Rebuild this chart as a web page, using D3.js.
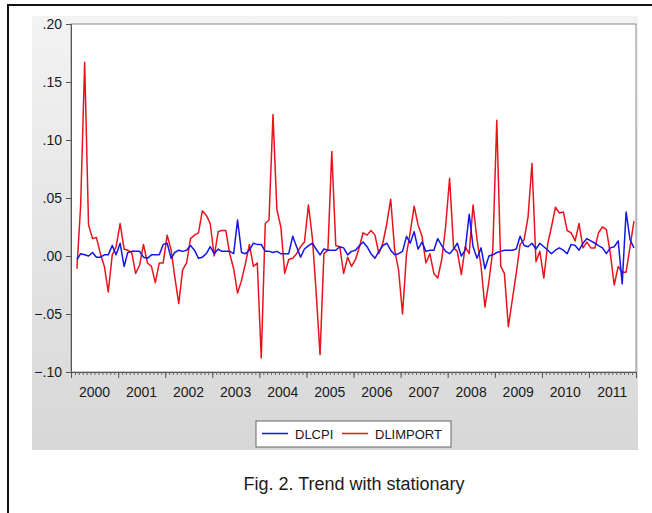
<!DOCTYPE html>
<html>
<head>
<meta charset="utf-8">
<script src="https://cdn.jsdelivr.net/npm/d3@7"></script>
<style>
  body { margin: 0; background: #fff; }
  svg { display: block; font-family: Arial, "Liberation Sans", sans-serif; }
</style>
</head>
<body>
<svg id="chart" width="652" height="513"></svg>
<script>
// monthly log-differences, 2000M02 .. 2011M12
const startMonth = [2000, 1];
const dlcpi = [
  -0.003, 0.002, 0.001, 0.000, 0.003, -0.001, -0.001, 0.001, 0.001, 0.009, 0.001, 0.011,
  -0.009, 0.003, 0.004, 0.004, 0.004, -0.001, -0.002, 0.001, 0.001, 0.001, 0.010, 0.011,
  -0.002, 0.003, 0.005, 0.004, 0.005, 0.009, 0.005, -0.002, -0.001, 0.002, 0.008, 0.002,
  0.006, 0.004, 0.004, 0.004, 0.002, 0.031, 0.003, 0.002, 0.005, 0.011, 0.010, 0.010,
  0.004, 0.004, 0.003, 0.004, 0.002, 0.002, 0.002, 0.017, 0.008, -0.001, 0.006, 0.009,
  0.011, 0.006, 0.001, 0.006, 0.005, 0.005, 0.005, 0.008, 0.007, 0.001, 0.004, 0.005,
  0.009, 0.012, 0.008, 0.002, -0.002, 0.004, 0.009, 0.011, 0.005, 0.001, 0.002, 0.004,
  0.017, 0.011, 0.021, 0.006, 0.012, 0.004, 0.005, 0.005, 0.015, 0.009, 0.004, 0.002,
  0.006, 0.011, 0.000, 0.005, 0.036, 0.008, -0.002, 0.007, -0.011, 0.000, 0.001, 0.003,
  0.004, 0.005, 0.005, 0.005, 0.006, 0.017, 0.009, 0.008, 0.011, 0.006, 0.011, 0.008,
  0.005, 0.002, 0.005, 0.007, 0.005, 0.002, 0.010, 0.009, 0.005, 0.011, 0.015, 0.013,
  0.011, 0.009, 0.007, 0.002, 0.007, 0.008, 0.013, -0.024, 0.038, 0.014, 0.007
];
const dlimport = [
  -0.011, 0.044, 0.167, 0.027, 0.015, 0.016, 0.002, -0.009, -0.031, 0.001, 0.008, 0.028,
  0.006, 0.005, 0.003, -0.015, -0.008, 0.010, -0.006, -0.009, -0.023, -0.006, -0.006, 0.018,
  0.005, -0.018, -0.041, -0.012, -0.006, 0.015, 0.018, 0.020, 0.039, 0.035, 0.028, 0.000,
  0.021, 0.022, 0.022, 0.002, -0.011, -0.032, -0.021, -0.006, 0.010, -0.009, -0.006, -0.088,
  0.028, 0.031, 0.122, 0.040, 0.025, -0.015, -0.003, -0.002, 0.002, 0.008, 0.012, 0.044,
  0.015, -0.030, -0.085, 0.002, 0.005, 0.090, 0.009, 0.008, -0.015, -0.001, -0.009, -0.003,
  0.008, 0.020, 0.018, 0.022, 0.018, 0.002, 0.011, 0.028, 0.049, 0.005, -0.012, -0.050,
  0.002, 0.020, 0.043, 0.027, 0.017, -0.006, 0.002, -0.015, -0.019, -0.003, 0.025, 0.067,
  0.007, 0.004, -0.016, 0.008, 0.002, 0.044, 0.014, -0.009, -0.044, -0.022, 0.005, 0.117,
  -0.009, -0.015, -0.061, -0.038, -0.015, 0.010, 0.014, 0.034, 0.080, -0.005, 0.004, -0.019,
  0.011, 0.025, 0.042, 0.037, 0.038, 0.022, 0.020, 0.013, 0.028, 0.007, 0.012, 0.007,
  0.007, 0.020, 0.025, 0.023, 0.002, -0.025, -0.009, -0.014, -0.014, 0.008, 0.030
];
const yearLabels = ["2000", "2001", "2002", "2003", "2004", "2005", "2006", "2007", "2008", "2009", "2010", "2011"];
const yTicks = [-0.10, -0.05, 0.00, 0.05, 0.10, 0.15, 0.20];
const seriesNames = ["DLCPI", "DLIMPORT"];
const seriesColors = ["#1515e8", "#e8141c"];
const caption = "Fig. 2. Trend with stationary";

const svg = d3.select("#chart");
const plot = { left: 71, right: 636, top: 24, bottom: 372 };

// outer frame of the figure (only top/left edges fall inside the picture)
svg.append("rect")
  .attr("x", 8).attr("y", 5).attr("width", 700).attr("height", 600)
  .attr("fill", "none").attr("stroke", "#111").attr("stroke-width", 2);

// grey EViews style panel
const grad = svg.append("defs").append("linearGradient")
  .attr("id", "panelGrad").attr("x1", 0).attr("y1", 0).attr("x2", 0).attr("y2", 1);
grad.append("stop").attr("offset", "0%").attr("stop-color", "#f3f3f3");
grad.append("stop").attr("offset", "100%").attr("stop-color", "#d7d7d7");
svg.append("rect")
  .attr("x", 32).attr("y", 16).attr("width", 606).attr("height", 434)
  .attr("fill", "url(#panelGrad)");

svg.append("rect")
  .attr("x", plot.left).attr("y", plot.top)
  .attr("width", plot.right - plot.left).attr("height", plot.bottom - plot.top)
  .attr("fill", "#fff").attr("stroke", "#8a8a8a").attr("stroke-width", 1);

// scales
const x = d3.scaleTime()
  .domain([new Date(2000, 0, 1), new Date(2012, 0, 1)])
  .range([plot.left, plot.right]);
const y = d3.scaleLinear().domain([-0.10, 0.20]).range([plot.bottom, plot.top]);

const monthDate = (i) => new Date(startMonth[0], startMonth[1] + i, 16);

// y axis
const yAxis = svg.append("g")
  .attr("transform", `translate(${plot.left},0)`)
  .call(d3.axisLeft(y)
    .tickValues(yTicks)
    .tickSize(5)
    .tickPadding(4)
    .tickFormat((d) => d3.format(".2f")(d).replace("0.", ".")));
yAxis.select(".domain").attr("stroke", "#555");
yAxis.selectAll(".tick line").attr("stroke", "#555");
yAxis.selectAll("text").attr("font-size", 14).attr("fill", "#1a1a1a");

// x axis: monthly minor ticks, yearly major ticks
const xMinor = svg.append("g")
  .attr("transform", `translate(0,${plot.bottom})`)
  .call(d3.axisBottom(x).ticks(d3.timeMonth.every(1)).tickSize(3).tickFormat(""));
xMinor.select(".domain").attr("stroke", "#555");
xMinor.selectAll(".tick line").attr("stroke", "#666");

const xMajor = svg.append("g")
  .attr("transform", `translate(0,${plot.bottom})`)
  .call(d3.axisBottom(x).ticks(d3.timeYear.every(1)).tickSize(6).tickFormat(""));
xMajor.select(".domain").remove();
xMajor.selectAll(".tick line").attr("stroke", "#555");

svg.append("g").selectAll("text")
  .data(yearLabels)
  .join("text")
  .attr("x", (d) => x(new Date(+d, 6, 1)))
  .attr("y", plot.bottom + 25)
  .attr("text-anchor", "middle")
  .attr("font-size", 14)
  .attr("fill", "#1a1a1a")
  .text((d) => d);

// series
const line = d3.line()
  .x((d, i) => x(monthDate(i)))
  .y((d) => y(d));

svg.append("path")
  .datum(dlimport)
  .attr("fill", "none")
  .attr("stroke", seriesColors[1])
  .attr("stroke-width", 1.5)
  .attr("stroke-linejoin", "round")
  .attr("d", line);

svg.append("path")
  .datum(dlcpi)
  .attr("fill", "none")
  .attr("stroke", seriesColors[0])
  .attr("stroke-width", 1.5)
  .attr("stroke-linejoin", "round")
  .attr("d", line);

// legend
const legend = svg.append("g").attr("transform", "translate(256,421)");
legend.append("rect")
  .attr("width", 195).attr("height", 26)
  .attr("fill", "#fff").attr("stroke", "#666");
const legendX = [6, 86];
seriesNames.forEach((name, i) => {
  legend.append("line")
    .attr("x1", legendX[i]).attr("x2", legendX[i] + 26)
    .attr("y1", 12.5).attr("y2", 12.5)
    .attr("stroke", seriesColors[i]).attr("stroke-width", 1.5);
  legend.append("text")
    .attr("x", legendX[i] + 33).attr("y", 17.5)
    .attr("font-size", 13).attr("fill", "#1a1a1a")
    .text(name);
});

// caption
svg.append("text")
  .attr("x", 354).attr("y", 490)
  .attr("text-anchor", "middle")
  .attr("font-size", 18)
  .attr("fill", "#1a1a1a")
  .text(caption);
</script>
</body>
</html>
